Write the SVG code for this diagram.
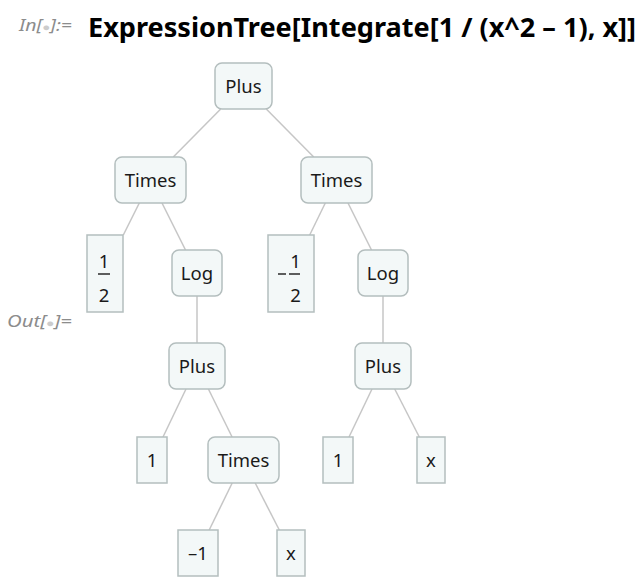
<svg xmlns="http://www.w3.org/2000/svg" width="638" height="582" viewBox="0 0 638 582">
<style>
.fn{fill:#f3f8f8;stroke:#b4bebe;stroke-width:1.5}
.lf{fill:#f3f8f8;stroke:#b4bebe;stroke-width:1.5}
.t{font-family:"Noto Sans","Open Sans",sans-serif;font-size:18.5px;fill:#1a1a1a;text-anchor:middle}
.e{stroke:#c6c6c6;stroke-width:1.5;fill:none}
.lbl{font-family:"Noto Sans","Open Sans",sans-serif;font-style:italic;font-size:16px;fill:#8c8c8c}
.title{font-family:"Noto Sans","Open Sans",sans-serif;font-weight:bold;font-size:27px;fill:#000}
.fr{stroke:#1a1a1a;stroke-width:1.4}
</style>
<rect width="638" height="582" fill="#ffffff"/>
<text class="lbl" x="19" y="31" textLength="53" lengthAdjust="spacingAndGlyphs">In[<tspan fill="#cccccc" font-style="normal" font-size="11">●</tspan>]:=</text>
<text class="title" x="88" y="37" textLength="548" lengthAdjust="spacingAndGlyphs">ExpressionTree[Integrate[1 / (x^2 – 1), x]]</text>
<text class="lbl" x="7" y="327" textLength="65" lengthAdjust="spacingAndGlyphs">Out[<tspan fill="#cccccc" font-style="normal" font-size="11">●</tspan>]=</text>
<g id="connectors">
<line class="e" x1="220.7" y1="109" x2="173.3" y2="157"/>
<line class="e" x1="266.3" y1="109" x2="313.7" y2="157"/>
<line class="e" x1="139.3" y1="203" x2="123.3" y2="235"/>
<line class="e" x1="162" y1="203" x2="185.5" y2="250"/>
<line class="e" x1="325.3" y1="203" x2="309.7" y2="235"/>
<line class="e" x1="348" y1="203" x2="371.5" y2="250"/>
<line class="e" x1="197" y1="296" x2="197" y2="343"/>
<line class="e" x1="383" y1="296" x2="383" y2="343"/>
<line class="e" x1="186" y1="389" x2="163" y2="437"/>
<line class="e" x1="208.4" y1="389" x2="232.1" y2="437"/>
<line class="e" x1="372" y1="389" x2="349" y2="437"/>
<line class="e" x1="394.7" y1="389" x2="419.3" y2="437"/>
<line class="e" x1="232.2" y1="483" x2="209.2" y2="530"/>
<line class="e" x1="255.2" y1="483" x2="279.3" y2="530"/>
</g>
<g id="plus0"><rect class="fn" x="215" y="63" width="57" height="46" rx="7"/><text class="t" x="243.5" y="93">Plus</text></g>
<g id="times1"><rect class="fn" x="115" y="157" width="71" height="46" rx="7"/><text class="t" x="150.5" y="187">Times</text></g>
<g id="times2"><rect class="fn" x="301" y="157" width="71" height="46" rx="7"/><text class="t" x="336.5" y="187">Times</text></g>
<g id="half1"><rect class="lf" x="87" y="235" width="36" height="77"/><text class="t" x="104" y="268">1</text><line class="fr" x1="98" y1="274" x2="110" y2="274"/><text class="t" x="104" y="302">2</text></g>
<g id="log1"><rect class="fn" x="172" y="250" width="50" height="46" rx="7"/><text class="t" x="197" y="280">Log</text></g>
<g id="half2"><rect class="lf" x="268" y="235" width="46" height="77"/><text class="t" x="295.5" y="268">1</text><line class="fr" x1="278" y1="274" x2="286" y2="274"/><line class="fr" x1="289" y1="274" x2="300" y2="274"/><text class="t" x="295.5" y="302">2</text></g>
<g id="log2"><rect class="fn" x="358" y="250" width="50" height="46" rx="7"/><text class="t" x="383" y="280">Log</text></g>
<g id="plus1"><rect class="fn" x="169" y="343" width="56" height="46" rx="7"/><text class="t" x="197" y="373">Plus</text></g>
<g id="plus2"><rect class="fn" x="355" y="343" width="56" height="46" rx="7"/><text class="t" x="383" y="373">Plus</text></g>
<g id="one1"><rect class="lf" x="137" y="437" width="30" height="46"/><text class="t" x="152" y="467">1</text></g>
<g id="times3"><rect class="fn" x="208" y="437" width="71" height="46" rx="7"/><text class="t" x="243.5" y="467">Times</text></g>
<g id="one2"><rect class="lf" x="323" y="437" width="30" height="46"/><text class="t" x="338" y="467">1</text></g>
<g id="x1"><rect class="lf" x="417" y="437" width="28" height="46"/><text class="t" x="431" y="467">x</text></g>
<g id="minus1"><rect class="lf" x="178" y="530" width="40" height="46"/><text class="t" x="198" y="560">–1</text></g>
<g id="x2"><rect class="lf" x="277" y="530" width="28" height="46"/><text class="t" x="291" y="560">x</text></g>
</svg>
